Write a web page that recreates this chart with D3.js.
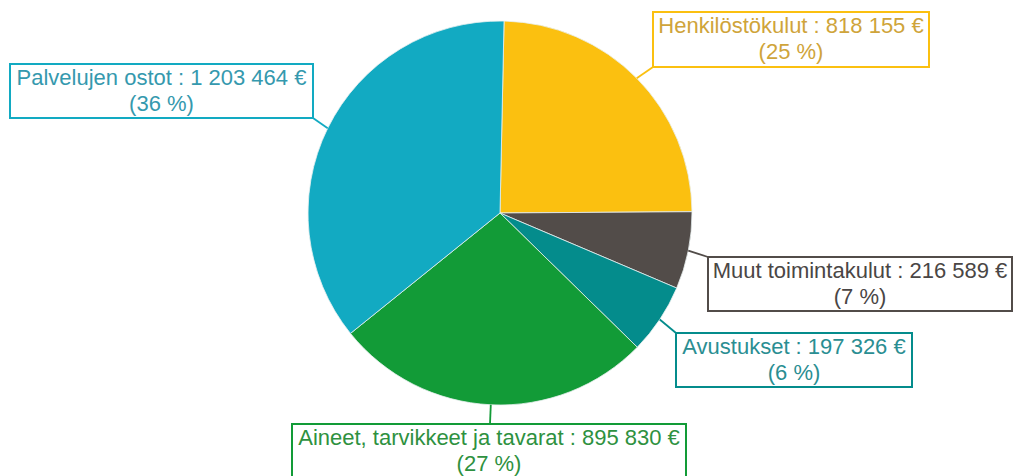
<!DOCTYPE html>
<html><head><meta charset="utf-8">
<script src="https://cdn.jsdelivr.net/npm/d3@7"></script>
<style>body{margin:0;background:#fff}svg{display:block}</style>
</head><body>
<svg id="c" width="1014" height="476"></svg>
<script>
const categories = ["Henkilöstökulut","Muut toimintakulut","Avustukset","Aineet, tarvikkeet ja tavarat","Palvelujen ostot"];
const values = [818155, 216589, 197326, 895830, 1203464];
const percents = ["25 %","7 %","6 %","27 %","36 %"];
const colors = ["#FBC010","#524C49","#048C8C","#129B37","#12AAC2"];
const textColors = ["#CFA43A","#4A4645","#2A8E92","#2E9140","#3599AE"];
// label box layout (left, top, width, height) and leader attach point
const boxes = [
  {x:653,y:12,w:276,h:55, ax:653,ay:67},
  {x:708,y:257,w:304,h:54, ax:708,ay:257},
  {x:676,y:333,w:236,h:54, ax:676,ay:333},
  {x:292,y:424,w:394,h:60, ax:490,ay:424},
  {x:10,y:64,w:303,h:54, ax:313,ay:118}
];
const fmt = v => d3.format(",")(v).replace(/,/g," ");
const svg = d3.select("#c");
const cx=500, cy=213, R=192;
const pie = d3.pie().sort(null).value(d=>d).startAngle(0.021).endAngle(0.021+2*Math.PI);
const arcs = pie(values);
const arc = d3.arc().innerRadius(0).outerRadius(R);
const g = svg.append("g").attr("transform",`translate(${cx},${cy})`);
g.selectAll("path").data(arcs).join("path")
  .attr("d",arc).attr("fill",(d,i)=>colors[i])
  .attr("stroke","#e8f0f0").attr("stroke-width",0.8);

arcs.forEach((a,i)=>{
  const m=(a.startAngle+a.endAngle)/2;
  const px=cx+R*Math.sin(m), py=cy-R*Math.cos(m);
  const b=boxes[i];
  svg.append("line").attr("x1",px).attr("y1",py).attr("x2",b.ax).attr("y2",b.ay)
    .attr("stroke",colors[i]).attr("stroke-width",1.8);
  svg.append("rect").attr("x",b.x).attr("y",b.y).attr("width",b.w).attr("height",b.h)
    .attr("fill","#fff").attr("stroke",colors[i]).attr("stroke-width",2);
  const t=svg.append("text").attr("text-anchor","middle")
    .attr("font-family","Liberation Sans, Arial, sans-serif").attr("font-size",22)
    .attr("fill",textColors[i]);
  t.append("tspan").attr("x",b.x+b.w/2).attr("y",b.y+21).text(`${categories[i]} : ${fmt(values[i])} €`);
  t.append("tspan").attr("x",b.x+b.w/2).attr("y",b.y+47).text(`(${percents[i]})`);
});
</script>
</body></html>
